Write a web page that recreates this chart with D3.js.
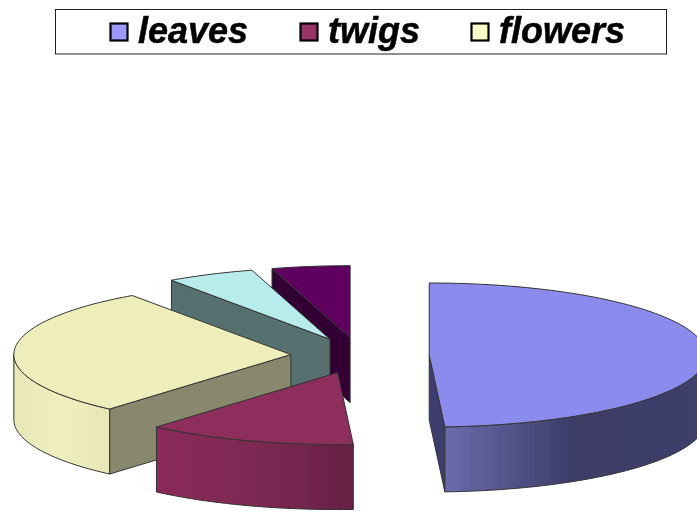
<!DOCTYPE html>
<html>
<head>
<meta charset="utf-8">
<script src="https://cdn.jsdelivr.net/npm/d3@7"></script>
<style>html,body{margin:0;padding:0;background:#fff;overflow:hidden}svg{display:block}</style>
</head>
<body>
<svg id="c" width="697" height="511"></svg>
<script>
const sliceNames = ["leaves","twigs","flowers","other1","other2"];
const sliceValues = [49.1,12.25,28.95,5.15,4.55];
const legendNames = ["leaves","twigs","flowers"];
const legendColors = ["#9999ff","#993366","#ffffcc"];
const topColors = ["#8b8bee","#8d2e5d","#eeeebb","#b8ecec","#5f0060"];
const wallColors = ["#3e3e6e","#652043","#88886e","#56706f","#300030"];
const rimStops = [
  [["#6a6bad",0],["#3c3c66",0.5],["#3f3f6c",1]],
  [["#8a2c5a",0],["#7a2852",0.6],["#652043",1]],
  [["#e8e8b8",0],["#eeeebf",0.5],["#e6e6b6",1]],
  [["#56706f",0],["#56706f",1]],
  [["#300030",0],["#300030",1]]
];

const W = 697, H = 511, cx = 360, cy = 355.5, rx = 277, ry = 72, depth = 65, explode = 0.25;
const svg = d3.select("#c");
const defs = svg.append("defs");
defs.append("filter").attr("id","soft").attr("x","-5%").attr("y","-5%").attr("width","110%").attr("height","110%")
  .append("feGaussianBlur").attr("stdDeviation",0.4);
const root = svg.append("g").attr("filter","url(#soft)");

const sx = d3.scaleLinear().domain([-1,1]).range([-rx,rx]);
const sy = d3.scaleLinear().domain([-1,1]).range([-ry,ry]);
const pie = d3.pie().sort(null).value(d=>d);
const arcs = pie(sliceValues);
const line = d3.line().x(d=>d[0]).y(d=>d[1]);
const stroke = "#333";

function pt(c,a,dz=0){return [c[0]+sx(Math.sin(a)),c[1]+sy(-Math.cos(a))+dz];}
function arcPts(c,a0,a1,dz=0){
  const n = Math.max(2,Math.ceil(Math.abs(a1-a0)/0.02));
  return d3.range(n+1).map(i=>pt(c,a0+(a1-a0)*i/n,dz));
}

// painter's order: back slices first
const order = [4,3,2,1,0];
order.forEach(i=>{
  const s = arcs[i], mid = (s.startAngle+s.endAngle)/2;
  const c = [cx+explode*sx(Math.sin(mid)), cy+explode*sy(-Math.cos(mid))];
  const g = root.append("g").attr("class","slice-"+sliceNames[i]);
  const walls = [];
  if(Math.sin(s.startAngle) < -1e-6) walls.push(s.startAngle);
  if(Math.sin(s.endAngle) > 1e-6) walls.push(s.endAngle);
  walls.forEach(a=>{
    const p = pt(c,a);
    g.append("path").attr("d",line([c,p,[p[0],p[1]+depth],[c[0],c[1]+depth]])+"Z")
      .attr("fill",wallColors[i]).attr("stroke",stroke).attr("stroke-width",1).attr("stroke-linejoin","round");
  });
  const r0 = Math.max(s.startAngle,Math.PI/2), r1 = Math.min(s.endAngle,Math.PI*1.5);
  if(r1>r0){
    const upper = arcPts(c,r0,r1), lower = arcPts(c,r1,r0,depth);
    const xs = upper.map(d=>d[0]);
    const id = "rim"+i;
    const gr = defs.append("linearGradient").attr("id",id).attr("gradientUnits","userSpaceOnUse")
      .attr("x1",d3.min(xs)).attr("x2",d3.max(xs)).attr("y1",0).attr("y2",0);
    rimStops[i].forEach(st=>gr.append("stop").attr("offset",st[1]).attr("stop-color",st[0]));
    g.append("path").attr("d",line(upper.concat(lower))+"Z")
      .attr("fill",`url(#${id})`).attr("stroke",stroke).attr("stroke-width",1).attr("stroke-linejoin","round");
  }
  const top = [c].concat(arcPts(c,s.startAngle,s.endAngle));
  g.append("path").attr("d",line(top)+"Z")
    .attr("fill",topColors[i]).attr("stroke",stroke).attr("stroke-width",1).attr("stroke-linejoin","round");
});

// legend
root.append("rect").attr("x",55.5).attr("y",9.5).attr("width",611).attr("height",44.5)
  .attr("fill","#fff").attr("stroke","#222").attr("stroke-width",1);
const swatchX = d3.scaleOrdinal().domain(legendNames).range([110,300,471]);
const lg = root.selectAll("g.lg").data(legendNames).join("g").attr("class","lg");
lg.append("rect").attr("x",d=>swatchX(d)+0.5).attr("y",23.5).attr("width",17).attr("height",17)
  .attr("fill",(d,i)=>legendColors[i]).attr("stroke","#000").attr("stroke-width",2.2);
lg.append("text").attr("x",d=>swatchX(d)+28).attr("y",43)
  .attr("font-family","'Liberation Sans',Arial,sans-serif").attr("font-weight","bold").attr("font-style","italic")
  .attr("font-size",36).attr("fill","#000").attr("stroke","#000").attr("stroke-width",0.5).text(d=>d);
</script>
</body>
</html>
